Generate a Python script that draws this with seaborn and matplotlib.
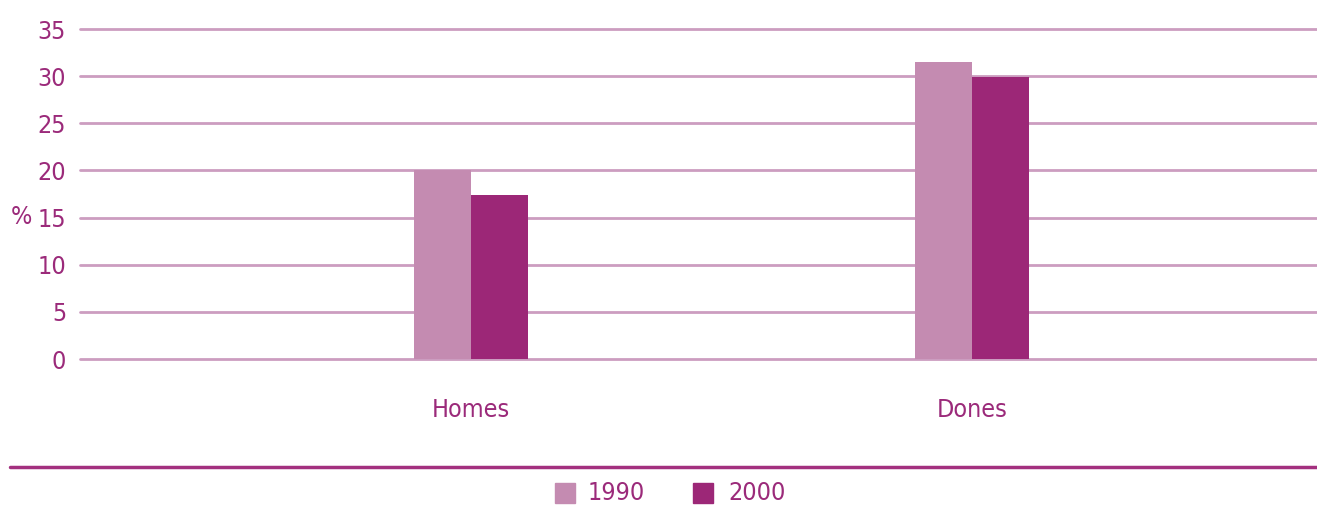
import matplotlib
matplotlib.use("Agg")
import matplotlib.pyplot as plt
import seaborn as sns
import pandas as pd
from matplotlib.patches import Rectangle
from matplotlib.lines import Line2D

categories = ["Homes", "Dones"]
years = ["1990", "2000"]
values_1990 = [20.0, 31.5]
values_2000 = [17.4, 29.9]
yticks = [0, 5, 10, 15, 20, 25, 30, 35]

df = pd.DataFrame({
    "cat": categories * 2,
    "year": [years[0]] * 2 + [years[1]] * 2,
    "val": values_1990 + values_2000,
})

sns.set_theme(style="white")
plt.rcParams["font.family"] = ["DejaVu Sans"]
plt.rcParams["font.stretch"] = "condensed"
plt.rcParams["font.weight"] = "light"

c1990 = "#c48bb1"
c2000 = "#9c2777"
grid_c = "#cc9dc0"
text_c = "#9b2a7a"
fs = 18

fig = plt.figure(figsize=(13.17, 5.11), dpi=100)
ax = fig.add_axes([80 / 1317, 1 - 359 / 511, 1 - 80 / 1317, 330 / 511])

sns.barplot(data=df, x="cat", y="val", hue="year", order=categories,
            hue_order=years, palette=[c1990, c2000], width=0.228,
            saturation=1, legend=False, ax=ax, zorder=3, linewidth=0,
            edgecolor="none")

ax.set_ylim(0, 35)
ax.set_xlim(-0.78, 1.689)
ax.set_yticks(yticks)
ax.set_yticklabels([str(t) for t in yticks])
ax.yaxis.grid(True, color=grid_c, linewidth=2, zorder=0)
for gl in ax.get_ygridlines():
    gl.set_clip_on(False)
ax.set_axisbelow(True)
for s in ax.spines.values():
    s.set_visible(False)
ax.tick_params(axis="both", length=0, colors=text_c, labelsize=fs)
ax.tick_params(axis="y", pad=10)
ax.tick_params(axis="x", pad=28)
ax.set_xlabel("")
ax.set_ylabel("")

fig.text(21 / 1317, 1 - 217 / 511, "%", color=text_c, fontsize=fs,
         ha="center", va="center")

# bottom rule
fig.add_artist(Line2D([10 / 1317, 1.0], [1 - 467 / 511] * 2, color="#a3307f",
                      linewidth=2.5, transform=fig.transFigure))

# legend
fig.add_artist(Rectangle((555 / 1317, 1 - 503 / 511), 20 / 1317, 20 / 511,
                         color=c1990, transform=fig.transFigure))
fig.text(588 / 1317, 1 - 493 / 511, years[0], color=text_c, fontsize=fs,
         va="center", ha="left")
fig.add_artist(Rectangle((693 / 1317, 1 - 503 / 511), 20 / 1317, 20 / 511,
                         color=c2000, transform=fig.transFigure))
fig.text(728 / 1317, 1 - 493 / 511, years[1], color=text_c, fontsize=fs,
         va="center", ha="left")

fig.savefig("out.png", dpi=100)
